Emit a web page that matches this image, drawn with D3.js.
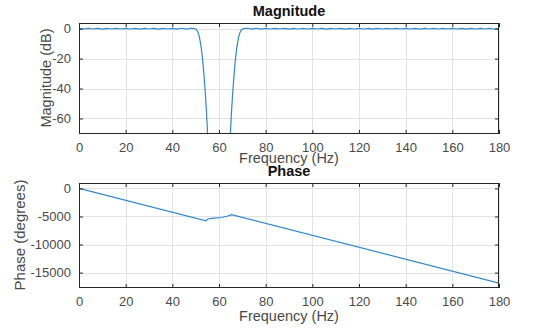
<!DOCTYPE html>
<html><head><meta charset="utf-8">
<script src="https://cdn.jsdelivr.net/npm/d3@7"></script>
<style>
body{margin:0;background:#fff}
svg{display:block}
text{font-family:Arial,"Liberation Sans",Helvetica,sans-serif}
</style>
</head><body><script>
// ---- data ----
const xTicks = [0,20,40,60,80,100,120,140,160,180];
const magTicks = [0,-20,-40,-60];
const phaseTicks = [0,-5000,-10000,-15000];

const magFreq = [0,2,4,6,8,10,12,14,16,18,20,22,24,26,28,30,32,34,36,38,40,42,44,46,48,49.5,
  50,50.5,51,51.5,52,52.5,53,53.5,54,54.5,55,55.3,
  64.7,65,65.5,66,66.5,67,67.5,68,68.5,69,69.5,70,70.5,
  72,74,76,78,80,82,84,86,88,90,92,94,96,98,100,102,104,106,108,110,112,114,116,118,120,
  122,124,126,128,130,132,134,136,138,140,142,144,146,148,150,152,154,156,158,160,162,164,166,168,170,172,174,176,178,180];
const magDb = [0.2,-0.2,0.25,-0.2,0.2,-0.25,0.2,-0.2,0.25,-0.2,0.2,-0.2,0.25,-0.25,0.2,-0.2,0.2,-0.25,0.25,-0.2,0.2,-0.25,0.3,-0.3,0.3,0.1,
  -0.3,-1,-2.5,-5,-9,-14,-21,-30,-40,-52,-66,-80,
  -80,-66,-52,-40,-30,-21,-14,-9,-5,-2.5,-1,-0.3,0.1,
  0.3,-0.3,0.3,-0.25,0.2,-0.2,0.25,-0.2,0.2,-0.25,0.2,-0.2,0.25,-0.2,0.2,-0.2,0.25,-0.25,0.2,-0.2,0.2,-0.25,0.25,-0.2,0.2,
  -0.2,0.2,-0.25,0.2,-0.2,0.25,-0.2,0.2,-0.2,0.25,-0.2,0.2,-0.25,0.2,-0.2,0.25,-0.2,0.2,-0.2,0.25,-0.2,0.2,-0.25,0.2,-0.2,0.25,-0.2,0.2,-0.2,0.2];

const phaseFreq = [0,54.4,55.2,56.8,59,61.1,63.5,65.4,180];
const phaseDeg  = [0,-5760,-5450,-5320,-5260,-5180,-4950,-4680,-16860];

// ---- layout ----
const W = 536, H = 334;
const svg = d3.select("body").append("svg").attr("width", W).attr("height", H);
const lineColor = "#2f88d0";
const axColor = "#262626";
const gridColor = "#e3e3e3";
const fmt = d => String(d);

function panel(o) {
  const x = d3.scaleLinear().domain([0,180]).range([o.x0, o.x1]);
  const y = d3.scaleLinear().domain(o.ydom).range([o.y1, o.y0]);
  const g = svg.append("g");
  const id = "clip" + o.name;
  svg.append("clipPath").attr("id", id).append("rect")
    .attr("x", o.x0).attr("y", o.y0).attr("width", o.x1 - o.x0).attr("height", o.y1 - o.y0);

  // grid
  g.append("g").selectAll("line").data(xTicks).join("line")
    .attr("x1", d => Math.round(x(d)) + 0.5).attr("x2", d => Math.round(x(d)) + 0.5)
    .attr("y1", o.y0).attr("y2", o.y1).attr("stroke", gridColor);
  g.append("g").selectAll("line").data(o.yTicks).join("line")
    .attr("y1", d => Math.round(y(d)) + 0.5).attr("y2", d => Math.round(y(d)) + 0.5)
    .attr("x1", o.x0).attr("x2", o.x1).attr("stroke", gridColor);

  // data line
  const line = d3.line().x(d => x(d[0])).y(d => y(d[1]));
  g.append("path").datum(o.fx.map((f, i) => [f, o.fy[i]]))
    .attr("clip-path", `url(#${id})`)
    .attr("d", line).attr("fill", "none").attr("stroke", lineColor).attr("stroke-width", 1.2);

  // axes (inside ticks, box)
  const axB = d3.axisBottom(x).tickValues(xTicks).tickSizeInner(-4).tickSizeOuter(0).tickPadding(9).tickFormat(fmt);
  const axT = d3.axisTop(x).tickValues(xTicks).tickSizeInner(-4).tickSizeOuter(0).tickFormat("");
  const axL = d3.axisLeft(y).tickValues(o.yTicks).tickSizeInner(-4).tickSizeOuter(0).tickPadding(8).tickFormat(fmt);
  const axR = d3.axisRight(y).tickValues(o.yTicks).tickSizeInner(-4).tickSizeOuter(0).tickFormat("");
  const styleAx = sel => {
    sel.select(".domain").remove();
    sel.selectAll("line").attr("stroke", axColor);
    sel.selectAll("text").attr("fill", "#4a4a4a").style("font-size", "13px")
      .style("font-family", "Arial, 'Liberation Sans', sans-serif");
  };
  g.append("g").attr("transform", `translate(0,${o.y1})`).call(axB).call(styleAx);
  g.append("g").attr("transform", `translate(0,${o.y0})`).call(axT).call(styleAx);
  g.append("g").attr("transform", `translate(${o.x0},0)`).call(axL).call(styleAx);
  g.append("g").attr("transform", `translate(${o.x1},0)`).call(axR).call(styleAx);
  g.append("rect").attr("x", o.x0 + 0.5).attr("y", o.y0 + 0.5)
    .attr("width", o.x1 - o.x0 - 1).attr("height", o.y1 - o.y0 - 1)
    .attr("fill", "none").attr("stroke", axColor);

  // labels
  g.append("text").attr("x", (o.x0 + o.x1) / 2).attr("y", o.titleY)
    .attr("text-anchor", "middle").style("font-size", "14.5px").style("font-weight", "bold")
    .attr("fill", "#111").text(o.title);
  g.append("text").attr("x", (o.x0 + o.x1) / 2).attr("y", o.xlabY)
    .attr("text-anchor", "middle").style("font-size", "14.5px").attr("fill", "#4a4a4a")
    .text("Frequency (Hz)");
  g.append("text").attr("transform", `translate(${o.ylabX},${o.ylabY}) rotate(-90)`)
    .attr("text-anchor", "middle").style("font-size", o.ylabSize).attr("fill", "#4a4a4a")
    .text(o.ylab);
}

panel({name:"mag", x0:79, x1:499, y0:23, y1:134, ydom:[-70.4,3.8], yTicks:magTicks,
  fx:magFreq, fy:magDb, title:"Magnitude", titleY:16, xlabY:163, ylabX:51, ylabY:78, ylabSize:"14.5px", ylab:"Magnitude (dB)"});
panel({name:"ph", x0:79, x1:499, y0:183, y1:288, ydom:[-17740,968], yTicks:phaseTicks,
  fx:phaseFreq, fy:phaseDeg, title:"Phase", titleY:176, xlabY:321, ylabX:25, ylabY:235, ylabSize:"15px", ylab:"Phase (degrees)"});
</script></body></html>
